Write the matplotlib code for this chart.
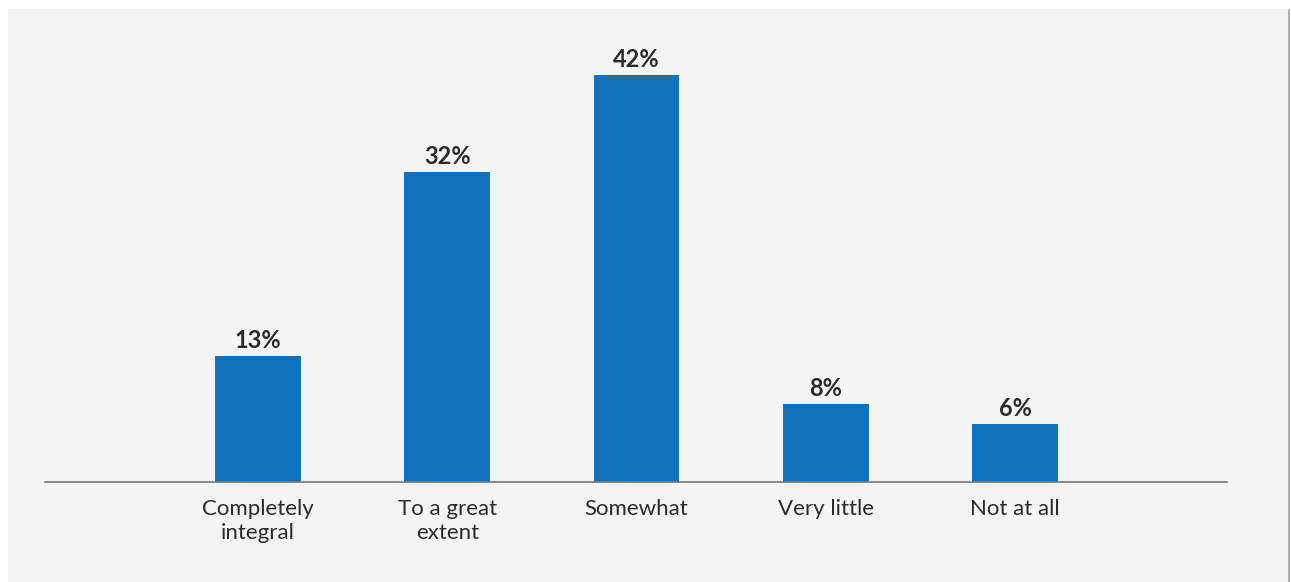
import matplotlib.pyplot as plt
from matplotlib.patches import Rectangle

categories = ['Completely\nintegral', 'To a great\nextent', 'Somewhat', 'Very little', 'Not at all']
values = [13, 32, 42, 8, 6]

bar_color = '#1172bb'
text_color = '#2b2b2b'
panel_color = '#f4f4f4'

plt.rcParams['font.family'] = ['Lato', 'DejaVu Sans']

fig = plt.figure(figsize=(12.91, 5.82), dpi=100)
fig.patch.set_facecolor('white')
# grauer Hintergrund (hinter den Achsen)
fig.patches.append(Rectangle((8/1291, 0), 1281/1291, 573/582, transform=fig.transFigure,
                             facecolor=panel_color, edgecolor='none', zorder=-10))
fig.patches.append(Rectangle((1288/1291, 0), 2/1291, 573/582, transform=fig.transFigure,
                             facecolor='#b0b0b0', edgecolor='none', zorder=-10))

ax = fig.add_axes([45/1291, 100/582, 1182/1291, 462/582])
ax.set_facecolor('none')

x = range(len(categories))
rects = ax.bar(x, values, width=0.454, color=bar_color)
ax.bar_label(rects, labels=[f'{v}%' for v in values], padding=3,
             fontsize=17, fontweight='bold', color=text_color)

ax.set_xlim(-1.125, 5.12)
ax.set_ylim(0, 47.68)
ax.set_xticks(list(x), categories)
ax.tick_params(axis='x', length=0, pad=12, labelsize=16, labelcolor=text_color)
for lbl in ax.get_xticklabels():
    lbl.set_linespacing(1.3)
ax.set_yticks([])
for s in ['top', 'right', 'left']:
    ax.spines[s].set_visible(False)
ax.spines['bottom'].set_color('#777777')
ax.spines['bottom'].set_linewidth(1.2)

fig.savefig('out.png', dpi=100)
